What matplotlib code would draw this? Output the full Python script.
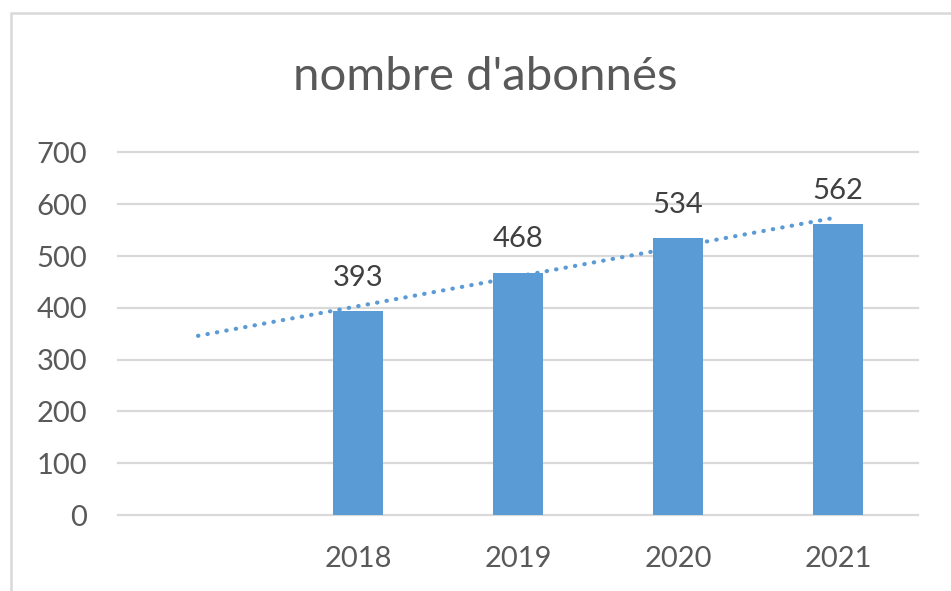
import matplotlib.pyplot as plt
import numpy as np
from matplotlib.patches import Rectangle

categories = ["", "2018", "2019", "2020", "2021"]
abonnes = [np.nan, 393, 468, 534, 562]
y_ticks = [0, 100, 200, 300, 400, 500, 600, 700]

BLUE = "#5b9bd5"
GREY = "#595959"

plt.rcParams['font.family'] = ['Lato', 'DejaVu Sans']

W, H = 951, 591
fig = plt.figure(figsize=(W / 100, H / 100), dpi=100)
fig.patches.append(Rectangle((11 / W, -0.1), 1.2, 1 - 13 / H + 0.1, transform=fig.transFigure,
                             fill=False, edgecolor="#d9d9d9", linewidth=1.8))

ax = fig.add_axes([118 / W, 1 - 515 / H, 800 / W, (515 - 152.5) / H])
x = np.arange(len(categories))
vals = np.array(abonnes, dtype=float)
ax.bar(x, vals, width=0.31, color=BLUE, zorder=2)

for xi, v in zip(x, vals):
    if not np.isnan(v):
        ax.annotate(f"{int(v)}", (xi, v), xytext=(0, 24), textcoords="offset points",
                    ha="center", va="center", fontsize=21, color="#404040")

# linear trendline across all category positions
mask = ~np.isnan(vals)
k, b = np.polyfit(x[mask] + 1, vals[mask], 1)
tx = np.linspace(x[0], x[-1], 50)
ax.plot(tx, k * (tx + 1) + b, color=BLUE, linestyle=(0, (0.1, 2.2)), linewidth=3,
        dash_capstyle="round", zorder=3)

ax.set_xlim(-0.5, len(categories) - 0.5)
ax.set_ylim(0, 700)
ax.set_yticks(y_ticks)
ax.set_xticks(x)
ax.set_xticklabels(categories)
ax.tick_params(axis="both", length=0, labelsize=21, labelcolor=GREY)
ax.tick_params(axis="y", pad=22)
ax.tick_params(axis="x", pad=22)
ax.grid(axis="y", color="#d9d9d9", linewidth=1.6, zorder=0)
for gl in ax.get_ygridlines():
    gl.set_clip_on(False)
ax.set_axisbelow(True)
for s in ax.spines.values():
    s.set_visible(False)

fig.text(485 / W, 1 - 77 / H, "nombre d'abonnés", ha="center", va="center",
         fontsize=34, color=GREY)

fig.savefig("out.png", dpi=100)
